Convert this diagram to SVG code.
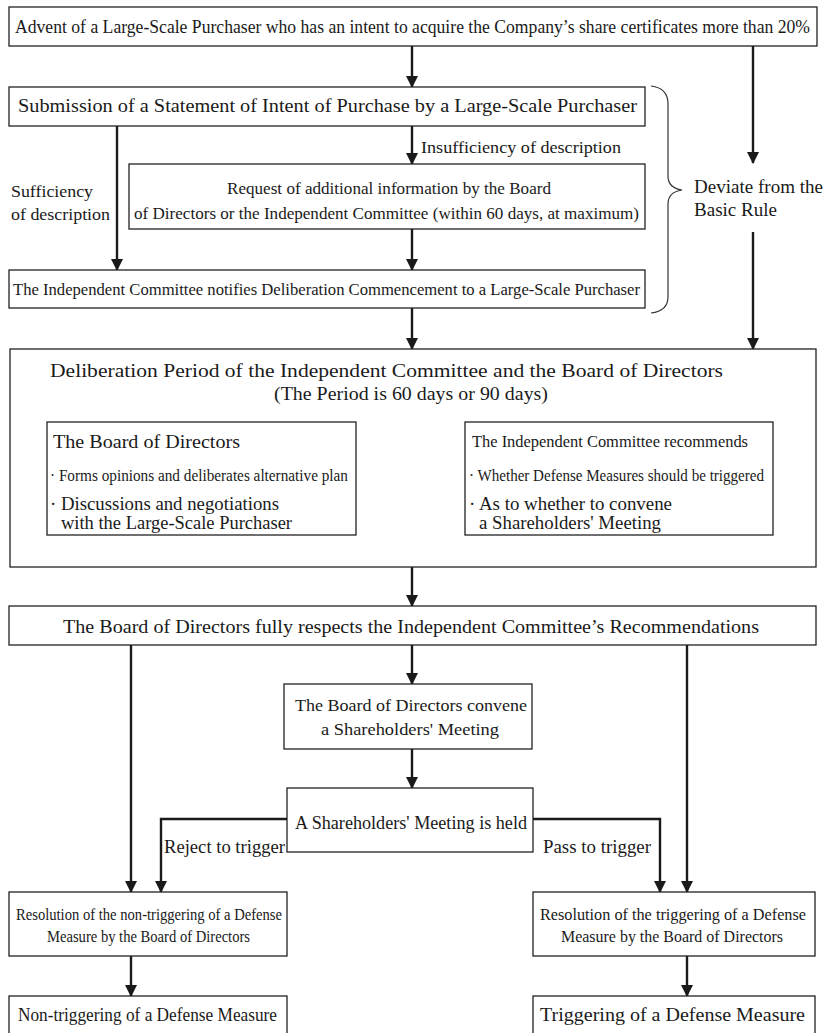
<svg xmlns="http://www.w3.org/2000/svg" width="826" height="1033" viewBox="0 0 826 1033">
<style>
.box{fill:#fff;stroke:#222;stroke-width:1.3}
.t{font-family:"Liberation Serif","Times New Roman",serif;fill:#1a1a1a}
.edge{fill:none;stroke:#1a1a1a;stroke-width:2.4}
.brace{fill:none;stroke:#333;stroke-width:1.2}
</style>
<defs>
<marker id="arr" markerUnits="userSpaceOnUse" markerWidth="12" markerHeight="14" refX="11" refY="6" orient="auto">
<path d="M0,0 L12,6 L0,12 Z" fill="#1a1a1a"/>
</marker>
</defs>
<rect width="826" height="1033" fill="#fff"/>

<g id="connectors">
<path class="edge" d="M412,46 V87" marker-end="url(#arr)"/>
<path class="edge" d="M753,46 V163" marker-end="url(#arr)"/>
<path class="edge" d="M753,232 V349" marker-end="url(#arr)"/>
<path class="edge" d="M117,126 V270" marker-end="url(#arr)"/>
<path class="edge" d="M412,126 V164" marker-end="url(#arr)"/>
<path class="edge" d="M412,229 V270" marker-end="url(#arr)"/>
<path class="edge" d="M412,308 V349" marker-end="url(#arr)"/>
<path class="edge" d="M356,456 H465" marker-end="url(#arr)"/>
<path class="edge" d="M465,506 H356" marker-end="url(#arr)"/>
<path class="edge" d="M412,567 V606" marker-end="url(#arr)"/>
<path class="edge" d="M131,645 V892" marker-end="url(#arr)"/>
<path class="edge" d="M687,645 V892" marker-end="url(#arr)"/>
<path class="edge" d="M412,645 V684" marker-end="url(#arr)"/>
<path class="edge" d="M412,749 V788" marker-end="url(#arr)"/>
<path class="edge" d="M287,819 H161 V892" marker-end="url(#arr)"/>
<path class="edge" d="M533,819 H660 V892" marker-end="url(#arr)"/>
<path class="edge" d="M131,956 V996" marker-end="url(#arr)"/>
<path class="edge" d="M687,956 V996" marker-end="url(#arr)"/>
<text class="t" x="421" y="153" font-size="17" textLength="200" lengthAdjust="spacingAndGlyphs">Insufficiency of description</text>
<text class="t" x="11" y="197" font-size="17" textLength="82" lengthAdjust="spacingAndGlyphs">Sufficiency</text>
<text class="t" x="11" y="220" font-size="17" textLength="99" lengthAdjust="spacingAndGlyphs">of description</text>
<text class="t" x="362" y="443" font-size="15" textLength="96" lengthAdjust="spacingAndGlyphs">Advice request</text>
<text class="t" x="359" y="527" font-size="14" textLength="101" lengthAdjust="spacingAndGlyphs">Recommendations</text>
<text class="t" x="164" y="853" font-size="19" textLength="121" lengthAdjust="spacingAndGlyphs">Reject to trigger</text>
<text class="t" x="543" y="853" font-size="19" textLength="108" lengthAdjust="spacingAndGlyphs">Pass to trigger</text>
</g>

<g id="brace-deviate">
<path class="brace" d="M651,86 Q668,88 668,104 V176 Q668,188 682,190 Q668,192 668,204 V297 Q668,311 651,313"/>
<text class="t" x="694" y="193" font-size="18" textLength="129" lengthAdjust="spacingAndGlyphs">Deviate from the</text>
<text class="t" x="694" y="216" font-size="18" textLength="83" lengthAdjust="spacingAndGlyphs">Basic Rule</text>
</g>

<g id="n-advent">
<rect class="box" x="9" y="7" width="808" height="39"/>
<text class="t" x="15" y="33" font-size="18" textLength="795" lengthAdjust="spacingAndGlyphs">Advent of a Large-Scale Purchaser who has an intent to acquire the Company’s share certificates more than 20%</text>
</g>

<g id="n-submission">
<rect class="box" x="9" y="87" width="636" height="39"/>
<text class="t" x="18" y="112" font-size="18" textLength="619" lengthAdjust="spacingAndGlyphs">Submission of a Statement of Intent of Purchase by a Large-Scale Purchaser</text>
</g>

<g id="n-request">
<rect class="box" x="129" y="164" width="516" height="65"/>
<text class="t" x="227" y="194" font-size="17" textLength="324" lengthAdjust="spacingAndGlyphs">Request of additional information by the Board</text>
<text class="t" x="134" y="219" font-size="17" textLength="505" lengthAdjust="spacingAndGlyphs">of Directors or the Independent Committee (within 60 days, at maximum)</text>
</g>

<g id="n-notifies">
<rect class="box" x="9" y="270" width="636" height="38"/>
<text class="t" x="13" y="295" font-size="17.5" textLength="627" lengthAdjust="spacingAndGlyphs">The Independent Committee notifies Deliberation Commencement to a Large-Scale Purchaser</text>
</g>

<g id="n-deliberation">
<rect class="box" x="10" y="349" width="806" height="218"/>
<text class="t" x="50" y="377" font-size="18.5" textLength="673" lengthAdjust="spacingAndGlyphs">Deliberation Period of the Independent Committee and the Board of Directors</text>
<text class="t" x="274" y="400" font-size="18.5" textLength="274" lengthAdjust="spacingAndGlyphs">(The Period is 60 days or 90 days)</text>
</g>

<g id="n-board">
<rect class="box" x="47" y="422" width="309" height="113"/>
<text class="t" x="53" y="448" font-size="19" textLength="187" lengthAdjust="spacingAndGlyphs">The Board of Directors</text>
<text class="t" x="50" y="481" font-size="16" textLength="298" lengthAdjust="spacingAndGlyphs">· Forms opinions and deliberates alternative plan</text>
<text class="t" x="50" y="510" font-size="18" textLength="229" lengthAdjust="spacingAndGlyphs">· Discussions and negotiations</text>
<text class="t" x="61" y="529" font-size="18" textLength="231" lengthAdjust="spacingAndGlyphs">with the Large-Scale Purchaser</text>
</g>

<g id="n-committee">
<rect class="box" x="465" y="422" width="308" height="113"/>
<text class="t" x="472" y="447" font-size="17" textLength="276" lengthAdjust="spacingAndGlyphs">The Independent Committee recommends</text>
<text class="t" x="469" y="481" font-size="16" textLength="295" lengthAdjust="spacingAndGlyphs">· Whether Defense Measures should be triggered</text>
<text class="t" x="469" y="510" font-size="18" textLength="203" lengthAdjust="spacingAndGlyphs">· As to whether to convene</text>
<text class="t" x="479" y="529" font-size="18" textLength="182" lengthAdjust="spacingAndGlyphs">a Shareholders' Meeting</text>
</g>

<g id="n-respects">
<rect class="box" x="9" y="606" width="807" height="39"/>
<text class="t" x="63" y="633" font-size="18.5" textLength="696" lengthAdjust="spacingAndGlyphs">The Board of Directors fully respects the Independent Committee’s Recommendations</text>
</g>

<g id="n-convene">
<rect class="box" x="284" y="684" width="248" height="65"/>
<text class="t" x="295" y="711" font-size="17" textLength="232" lengthAdjust="spacingAndGlyphs">The Board of Directors convene</text>
<text class="t" x="321" y="735" font-size="17" textLength="178" lengthAdjust="spacingAndGlyphs">a Shareholders' Meeting</text>
</g>

<g id="n-held">
<rect class="box" x="287" y="788" width="246" height="64"/>
<text class="t" x="295" y="829" font-size="19" textLength="232" lengthAdjust="spacingAndGlyphs">A Shareholders' Meeting is held</text>
</g>

<g id="n-res-non">
<rect class="box" x="9" y="892" width="278" height="64"/>
<text class="t" x="16" y="920" font-size="16.5" textLength="266" lengthAdjust="spacingAndGlyphs">Resolution of the non-triggering of a Defense</text>
<text class="t" x="47" y="942" font-size="16.5" textLength="203" lengthAdjust="spacingAndGlyphs">Measure by the Board of Directors</text>
</g>

<g id="n-res-trig">
<rect class="box" x="533" y="892" width="282" height="64"/>
<text class="t" x="540" y="920" font-size="16.5" textLength="266" lengthAdjust="spacingAndGlyphs">Resolution of the triggering of a Defense</text>
<text class="t" x="561" y="942" font-size="16.5" textLength="222" lengthAdjust="spacingAndGlyphs">Measure by the Board of Directors</text>
</g>

<g id="n-non">
<rect class="box" x="9" y="996" width="278" height="45"/>
<text class="t" x="18" y="1021" font-size="19" textLength="259" lengthAdjust="spacingAndGlyphs">Non-triggering of a Defense Measure</text>
</g>

<g id="n-trig">
<rect class="box" x="533" y="996" width="282" height="45"/>
<text class="t" x="540" y="1021" font-size="19" textLength="265" lengthAdjust="spacingAndGlyphs">Triggering of a Defense Measure</text>
</g>
</svg>
